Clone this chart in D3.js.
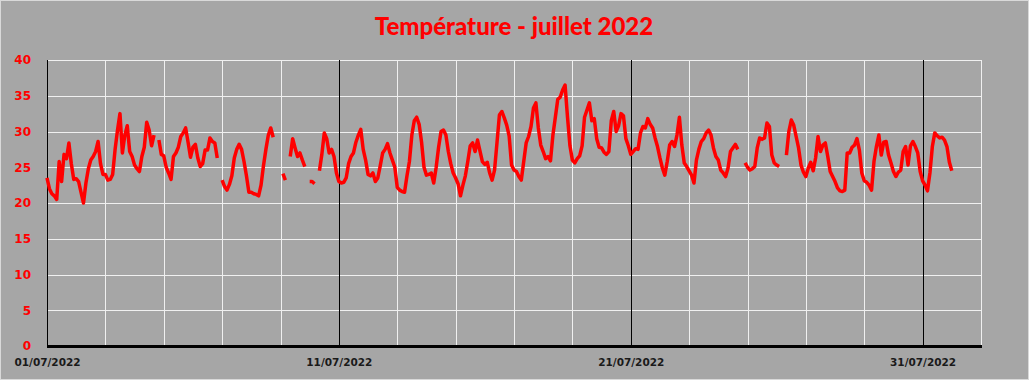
<!DOCTYPE html>
<html>
<head>
<meta charset="utf-8">
<script src="https://cdn.jsdelivr.net/npm/d3@7"></script>
<style>
	body { margin:0; background:#fff; }
	svg { display:block; }
</style>
</head>
<body>
<div id="chart"></div>
<script>

// Data : one reading every 2 hours, from 01/07/2022 00:00 (null = no data)
var chartTitle = "Température - juillet 2022";
var stepHours = 2;

var temp01to10 = [
	[23.5, 22.0, 21.3, 21.0, 20.5, 25.8, 23.0, 26.8, 26.2, 28.4, 25.5, 23.3],
	[23.4, 23.0, 21.5, 20.0, 22.8, 24.8, 26.0, 26.5, 27.2, 28.6, 25.5, 24.0],
	[24.0, 23.2, 23.3, 24.0, 27.5, 30.2, 32.5, 27.0, 29.5, 30.8, 27.2, 26.5],
	[25.3, 24.8, 24.4, 26.5, 27.8, 31.3, 30.2, 28.0, 29.5, null, 28.8, 26.8],
	[26.6, 25.0, 24.2, 23.3, 26.5, 27.0, 27.8, 29.3, 29.8, 30.5, 28.5, 26.4],
	[27.8, 28.2, 26.3, 25.1, 25.5, 27.4, 27.4, 29.1, 28.6, 28.4, 26.3, null],
	[23.2, 22.3, 21.8, 22.6, 23.8, 26.3, 27.5, 28.2, 27.5, 25.8, 23.8, 21.5],
	[21.5, 21.3, 21.2, 21.0, 22.5, 25.2, 27.5, 29.5, 30.5, 29.2, null, null],
	[null, 24.1, 23.2, null, 26.5, 29.0, 27.7, 26.5, 27.0, 26.0, 25.1, null],
	[23.0, 23.0, 22.7, null, 24.5, 26.8, 29.8, 29.0, 27.0, 27.5, 26.5, 24.2]
];
var temp11to20 = [
	[23.0, 22.8, 22.9, 23.5, 25.5, 26.5, 27.0, 28.5, 29.5, 30.3, 27.5, 26.0],
	[24.0, 23.8, 24.2, 23.0, 23.5, 25.2, 27.0, 27.5, 28.3, 27.0, 26.0, 25.0],
	[22.2, 21.8, 21.6, 21.5, 23.8, 25.8, 29.5, 31.5, 32.0, 31.0, 28.5, 25.0],
	[23.9, 24.0, 24.2, 22.8, 25.0, 27.8, 30.0, 30.2, 29.5, 27.2, 25.5, 24.2],
	[23.5, 22.7, 21.0, 22.5, 23.8, 25.8, 28.0, 28.4, 27.2, 28.8, 27.3, 25.8],
	[25.4, 25.7, 24.2, 23.2, 24.6, 28.4, 32.3, 32.8, 31.9, 30.9, 29.4, 25.3],
	[24.6, 24.4, 23.7, 23.2, 25.8, 28.4, 29.3, 30.7, 33.3, 34.0, 30.5, 28.1],
	[27.2, 26.2, 26.5, 25.9, 29.5, 32.0, 34.5, 34.8, 35.8, 36.5, 32.0, 28.0],
	[26.0, 25.6, 26.2, 26.6, 28.0, 32.0, 33.0, 34.0, 31.5, 31.8, 29.0, 27.8],
	[27.7, 27.1, 26.8, 27.2, 31.5, 32.8, 30.0, 30.8, 32.5, 32.2, 29.0, 28.0]
];
var temp21to31 = [
	[26.8, 27.2, 27.6, 27.5, 29.8, 30.7, 30.5, 31.8, 31.0, 30.5, 29.1, 27.9],
	[26.3, 24.9, 23.9, 25.8, 28.1, 28.6, 27.9, 29.5, 32.0, 28.1, 25.6, 25.1],
	[24.5, 23.9, 22.8, 26.0, 27.5, 28.6, 29.0, 29.8, 30.2, 29.5, 27.7, 26.5],
	[26.0, 24.6, 24.2, 23.7, 24.9, 27.2, 27.7, 28.2, 27.5, null, null, 25.6],
	[25.0, 24.6, 24.8, 25.1, 27.7, 29.1, 28.9, 29.1, 31.2, 30.7, 26.7, 25.6],
	[25.3, 25.1, null, null, 26.7, 30.0, 31.6, 30.9, 29.3, 27.7, 25.3, 24.3],
	[23.7, 24.9, 25.7, 24.5, 26.3, 29.3, 27.2, 28.1, 28.4, 26.5, 24.4, 23.7],
	[23.0, 22.1, 21.7, 21.6, 21.8, 27.0, 27.0, 27.8, 28.1, 29.0, 27.4, 24.2],
	[23.1, 22.9, 22.5, 21.8, 25.8, 27.9, 29.5, 26.7, 28.5, 28.6, 26.7, 25.6],
	[24.4, 23.7, 24.3, 24.6, 27.2, 27.9, 25.3, 28.0, 28.6, 27.9, 27.0, 24.4],
	[23.1, 22.5, 21.7, 24.2, 27.9, 29.8, 29.4, 29.1, 29.2, 28.8, 27.9, 25.7, 24.5]
];

var yTicks = [0, 5, 10, 15, 20, 25, 30, 35, 40];
var xLabelDays = [1, 11, 21, 31];

// Drawing parameters
var width = 1029, height = 380;
var plotLeft = 47, plotRight = 981, plotTop = 60, plotBottom = 346;
var bgColor = "#a6a6a6";
var gridColor = "#f0f0f0";
var lineColor = "#ff0000";

// Flatten data into {t, v}
var series = [];
[temp01to10, temp11to20, temp21to31].forEach(function(block, b) {
	block.forEach(function(day, d) {
		day.forEach(function(v, i) {
			var dayIndex = b*10 + d;
			series.push({ t: new Date(Date.UTC(2022, 6, 1 + dayIndex, i*stepHours)), v: v });
		});
	});
});

var x = d3.scaleUtc()
	.domain([new Date(Date.UTC(2022, 6, 1)), new Date(Date.UTC(2022, 7, 2))])
	.range([plotLeft, plotRight]);

var y = d3.scaleLinear()
	.domain([0, 40])
	.range([plotBottom, plotTop]);

var svg = d3.select("#chart").append("svg")
	.attr("width", width).attr("height", height);

svg.append("rect")
	.attr("x", 0.5).attr("y", 0.5)
	.attr("width", width-1).attr("height", height-1)
	.attr("fill", bgColor)
	.attr("stroke", "#d9d9d9");

// Title
svg.append("text")
	.attr("x", 514).attr("y", 35)
	.attr("text-anchor", "middle")
	.attr("font-family", "Lato, 'Open Sans', sans-serif")
	.attr("font-weight", 900)
	.attr("font-size", 24)
	.attr("fill", "#ff0000")
	.text(chartTitle);

// Horizontal grid
var yGrid = svg.append("g")
	.attr("transform", "translate(" + plotLeft + ",0)")
	.call(d3.axisLeft(y).tickValues(yTicks).tickSize(-(plotRight-plotLeft)).tickFormat(""));
yGrid.select(".domain").remove();
yGrid.selectAll(".tick line").attr("stroke", gridColor).attr("shape-rendering", "crispEdges");

// Vertical grid : white every 2 days, black every 10 days
var gridDays = d3.range(2, 33, 2).filter(function(d) { return d % 10 != 0; });
svg.append("g").selectAll("line")
	.data(gridDays)
	.join("line")
	.attr("x1", function(d) { return Math.round(x(new Date(Date.UTC(2022, 6, 1 + d)))) + 0.5; })
	.attr("x2", function(d) { return Math.round(x(new Date(Date.UTC(2022, 6, 1 + d)))) + 0.5; })
	.attr("y1", plotTop).attr("y2", plotBottom)
	.attr("stroke", gridColor);

svg.append("g").selectAll("line")
	.data([0, 10, 20, 30])
	.join("line")
	.attr("x1", function(d) { return Math.round(x(new Date(Date.UTC(2022, 6, 1 + d)))) + 0.5; })
	.attr("x2", function(d) { return Math.round(x(new Date(Date.UTC(2022, 6, 1 + d)))) + 0.5; })
	.attr("y1", plotTop).attr("y2", plotBottom)
	.attr("stroke", "#000");

// Y labels
var yAxis = svg.append("g")
	.attr("transform", "translate(" + (plotLeft - 13) + ",0)")
	.call(d3.axisLeft(y).tickValues(yTicks).tickSize(0));
yAxis.select(".domain").remove();
yAxis.selectAll("text")
	.attr("font-family", "'DejaVu Sans', Verdana, sans-serif")
	.attr("font-weight", "bold")
	.attr("font-size", 12)
	.attr("fill", "#ff0000");

// Temperature line
var line = d3.line()
	.defined(function(d) { return d.v != null; })
	.x(function(d) { return x(d.t); })
	.y(function(d) { return y(d.v); });

svg.append("path")
	.datum(series)
	.attr("d", line)
	.attr("fill", "none")
	.attr("stroke", lineColor)
	.attr("stroke-width", 3.5)
	.attr("stroke-linejoin", "round");

// X axis
var xAxis = svg.append("g")
	.attr("transform", "translate(0," + plotBottom + ")")
	.call(d3.axisBottom(x)
		.tickValues(xLabelDays.map(function(d) { return new Date(Date.UTC(2022, 6, d)); }))
		.tickSize(0).tickPadding(13)
		.tickFormat(d3.utcFormat("%d/%m/%Y")));
xAxis.select(".domain").remove();
xAxis.selectAll("text")
	.attr("font-family", "'DejaVu Sans', Verdana, sans-serif")
	.attr("font-weight", "bold")
	.attr("font-size", 10.5)
	.attr("fill", "#1a1a1a");

svg.append("line")
	.attr("x1", plotLeft).attr("x2", plotRight + 1)
	.attr("y1", plotBottom + 0.5).attr("y2", plotBottom + 0.5)
	.attr("stroke", "#000")
	.attr("stroke-width", 3);

</script>
</body>
</html>
